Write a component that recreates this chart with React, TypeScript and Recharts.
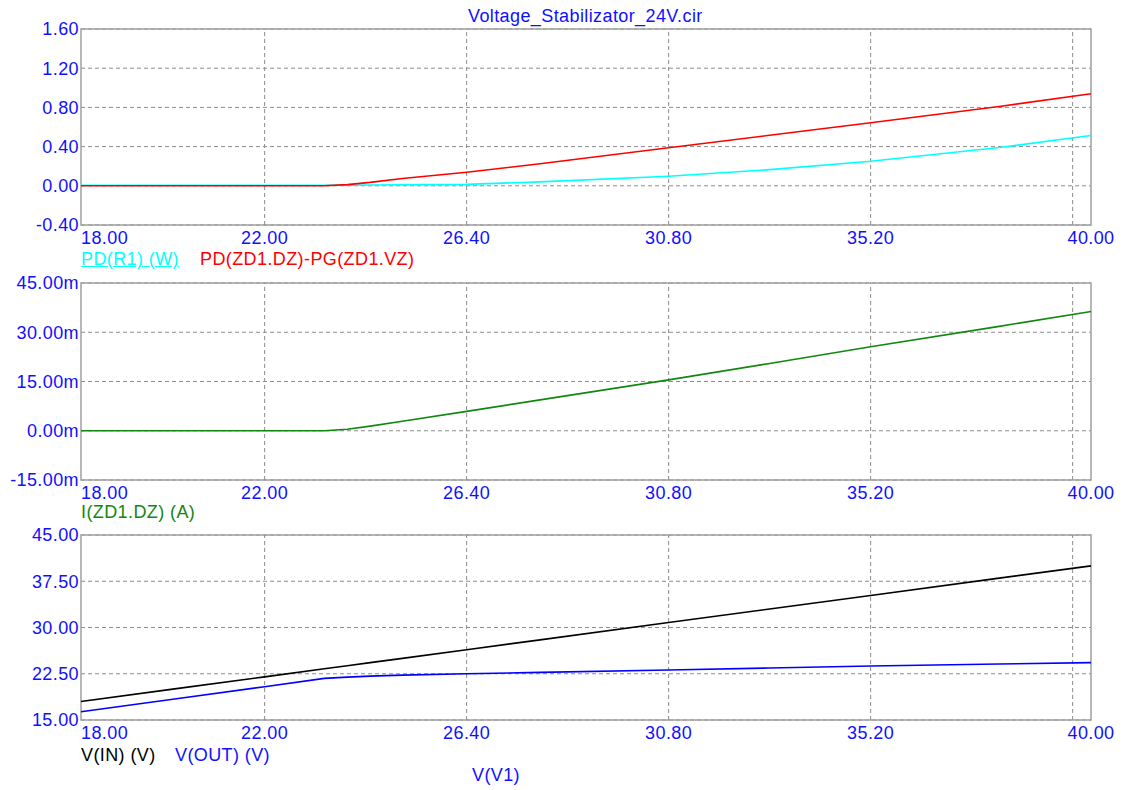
import React from 'react'
import {
  LineChart,
  Line,
  XAxis,
  YAxis,
  CartesianGrid,
  ReferenceLine,
  ReferenceArea,
} from 'recharts'

// sweep of V1 (volts)
const sweepV1 = [18, 20, 22, 23.3, 23.8, 24.3, 25, 26.4, 28, 30.8, 33, 35.2, 38, 40]

// top panel: power (W)
const pdR1 = [0.005, 0.005, 0.005, 0.006, 0.007, 0.008, 0.01, 0.015, 0.04, 0.098, 0.165, 0.25, 0.39, 0.513]
const pdZener = [0, 0, 0, 0, 0.012, 0.035, 0.075, 0.139, 0.225, 0.388, 0.515, 0.643, 0.81, 0.939]

// middle panel: zener current (mA)
const iZener = [0, 0, 0, 0, 0.45, 1.4, 2.9, 5.9, 9.4, 15.5, 20.5, 25.6, 31.8, 36.3]

// bottom panel: voltages (V)
const vIn = [18, 20, 22, 23.3, 23.8, 24.3, 25, 26.4, 28, 30.8, 33, 35.2, 38, 40]
const vOut = [16.35, 18.37, 20.4, 21.75, 21.95, 22.12, 22.27, 22.5, 22.72, 23.1, 23.43, 23.76, 24.07, 24.3]

const xTicks = [18, 22, 26.4, 30.8, 35.2, 40]
const xGrid = [22, 26.4, 30.8, 35.2, 39.6]

const topTicks = [-0.4, 0, 0.4, 0.8, 1.2, 1.6]
const midTicks = [-15, 0, 15, 30, 45]
const botTicks = [15, 22.5, 30, 37.5, 45]

const data = sweepV1.map((v, i) => ({
  v1: v,
  pdR1: pdR1[i],
  pdZener: pdZener[i],
  iZener: iZener[i],
  vIn: vIn[i],
  vOut: vOut[i],
}))

const FONT = '"Liberation Sans", Arial, sans-serif'
const BLUE = '#1010ff'
const GRID = '#8c8c8c'
const FS = 18
const LS = 0.4

function XTick(props: any) {
  const { x, y, payload } = props
  const v = payload.value as number
  return (
    <text
      x={x}
      y={y + 11}
      textAnchor={v === 18 ? 'start' : 'middle'}
      dominantBaseline="central"
      fill={BLUE}
      fontSize={FS}
      fontFamily={FONT}
      letterSpacing={LS}
    >
      {v.toFixed(2)}
    </text>
  )
}

interface PanelProps {
  plotTop: number
  plotBottom: number
  domain: [number, number]
  ticks: number[]
  suffix?: string
  children: React.ReactNode
}

function Panel({ plotTop, plotBottom, domain, ticks, suffix = '', children }: PanelProps) {
  const padTop = 20
  const padBottom = 30
  const height = plotBottom - plotTop + padTop + padBottom
  return (
    <div style={{ position: 'absolute', left: 0, top: plotTop - padTop }}>
      <LineChart
        width={1123}
        height={height}
        data={data}
        margin={{ top: padTop, right: 32, left: 0, bottom: 0 }}
      >
        <CartesianGrid vertical={false} stroke={GRID} strokeDasharray="4 3" />
        {xGrid.map((g) => (
          <ReferenceLine key={g} x={g} stroke={GRID} strokeDasharray="4 3" />
        ))}
        <XAxis
          dataKey="v1"
          type="number"
          domain={[18, 40]}
          ticks={xTicks}
          interval={0}
          tick={<XTick />}
          tickLine={false}
          axisLine={false}
          tickSize={0}
          height={padBottom}
        />
        <YAxis
          type="number"
          domain={domain}
          ticks={ticks}
          interval={0}
          width={81}
          tickLine={false}
          axisLine={false}
          tickSize={0}
          tickMargin={2}
          tick={{ fill: BLUE, fontSize: FS, fontFamily: FONT, letterSpacing: LS }}
          tickFormatter={(v: number) => v.toFixed(2) + suffix}
        />
        {children}
        <ReferenceArea
          x1={18}
          x2={40}
          y1={domain[0]}
          y2={domain[1]}
          fill="none"
          stroke="#a0a0a0"
          strokeWidth={1.5}
        />
      </LineChart>
    </div>
  )
}

function Label({ x, y, color, text, underline }: { x: number; y: number; color: string; text: string; underline?: boolean }) {
  return (
    <div
      style={{
        position: 'absolute',
        left: x,
        top: y - 9,
        lineHeight: '18px',
        fontSize: FS,
        fontFamily: FONT,
        letterSpacing: LS,
        color,
        whiteSpace: 'nowrap',
        textDecoration: underline ? 'underline' : 'none',
      }}
    >
      {text}
    </div>
  )
}

export default function App() {
  return (
    <div style={{ position: 'absolute', left: 0, top: 0, width: 1123, height: 790, background: '#fff' }}>
      <Label x={468} y={16} color={BLUE} text="Voltage_Stabilizator_24V.cir" />

      <Panel plotTop={29} plotBottom={225} domain={[-0.4, 1.6]} ticks={topTicks}>
        <Line dataKey="pdR1" stroke="#00ffff" strokeWidth={1.6} dot={false} isAnimationActive={false} />
        <Line dataKey="pdZener" stroke="#ff0000" strokeWidth={1.6} dot={false} isAnimationActive={false} />
      </Panel>
      <Label x={81} y={259} color="#00ffff" text="PD(R1) (W)" underline />
      <Label x={200} y={259} color="#ff0000" text="PD(ZD1.DZ)-PG(ZD1.VZ)" />

      <Panel plotTop={283} plotBottom={480} domain={[-15, 45]} ticks={midTicks} suffix="m">
        <Line dataKey="iZener" stroke="#108810" strokeWidth={1.6} dot={false} isAnimationActive={false} />
      </Panel>
      <Label x={81} y={512} color="#108810" text="I(ZD1.DZ) (A)" />

      <Panel plotTop={535} plotBottom={720} domain={[15, 45]} ticks={botTicks}>
        <Line dataKey="vIn" stroke="#000000" strokeWidth={1.6} dot={false} isAnimationActive={false} />
        <Line dataKey="vOut" stroke="#0000ff" strokeWidth={1.6} dot={false} isAnimationActive={false} />
      </Panel>
      <Label x={81} y={755} color="#000000" text="V(IN) (V)" />
      <Label x={175} y={755} color={BLUE} text="V(OUT) (V)" />
      <Label x={472} y={775} color={BLUE} text="V(V1)" />
    </div>
  )
}
